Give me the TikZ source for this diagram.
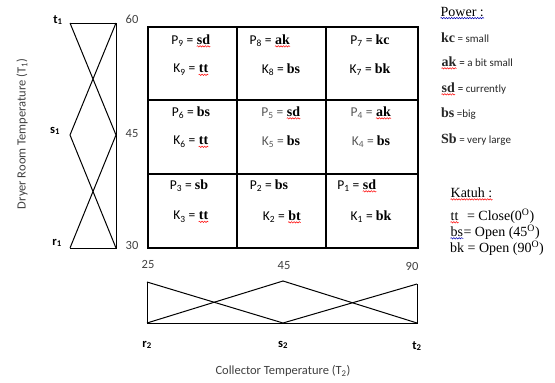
\documentclass[tikz,border=0pt]{standalone}
\usepackage{fontspec}
\setmainfont{Carlito}
\newfontfamily\bserif{Liberation Serif}
\usetikzlibrary{decorations.pathmorphing}
\tikzset{
  mfline/.style={line width=1pt, black},
  gridline/.style={line width=1.3pt, black},
  cell/.style={font=\fontsize{13.5}{15}\selectfont, inner sep=0pt},
  scalelbl/.style={font=\fontsize{12.5}{14}\selectfont, text=black!75, inner sep=0pt},
  termlbl/.style={font=\fontsize{12.5}{14}\selectfont\bfseries, inner sep=0pt},
  legend/.style={font=\fontsize{11}{13}\selectfont, anchor=west, inner sep=0pt, text=black!85},
  katuh/.style={font=\bserif\fontsize{14}{15}\selectfont, anchor=west, inner sep=0pt},
  squiggle/.style={line width=0.5pt, decorate, decoration={snake, amplitude=0.7pt, segment length=2.6pt}},
}
% bold serif value
\newcommand{\bv}[1]{{\bserif\bfseries\fontsize{14}{15}\selectfont #1}}
% wavy underline (spell-check mark)
\newcommand{\squig}[2][red]{\tikz[baseline=(w.base)]{\node[inner sep=0pt](w){#2};\draw[squiggle,#1] ([yshift=-1.6pt]w.south west) -- ([yshift=-1.6pt]w.south east);}}
\newcommand{\sub}[1]{\textsubscript{#1}}
\begin{document}
\begin{tikzpicture}[x=1pt,y=-1pt]
\useasboundingbox (0,0) rectangle (555,383);

% ---- dryer room membership functions ----
\coordinate (lt0) at (70,23);
\coordinate (lt1) at (116,23);
\coordinate (lm0) at (70,135);
\coordinate (lm1) at (116,135);
\coordinate (lb0) at (70,248);
\coordinate (lb1) at (116,248);
\draw[mfline] (lt0) -- (lt1) -- (lb1) -- (lb0);
\draw[mfline] (lt0) -- (lm1) -- (lb0);
\draw[mfline] (lt1) -- (lm0) -- (lb1);

\node[termlbl] (t1) at (58,20) {t\sub{1}};
\node[termlbl] (s1) at (55,131) {s\sub{1}};
\node[termlbl] (r1) at (57,243) {r\sub{1}};
\node[scalelbl] (v60) at (132,19) {60};
\node[scalelbl] (v45) at (132,134) {45};
\node[scalelbl] (v30) at (132,245) {30};
\node[scalelbl, rotate=90] (ylab) at (22,134) {Dryer Room Temperature (T\sub{1})};

% ---- rule table ----
\draw[gridline] (148,27) rectangle (418,248);
\draw[gridline] (237,27) -- (237,248);
\draw[gridline] (326,27) -- (326,248);
\draw[gridline] (148,100) -- (418,100);
\draw[gridline] (148,174) -- (418,174);

\node[cell] (p9) at (191,41) {P\sub{9} = \squig{\bv{sd}}};
\node[cell] (k9) at (191,70) {K\sub{9} = \squig{\bv{tt}}};
\node[cell] (p8) at (270,41) {P\sub{8} = \squig{\bv{ak}}};
\node[cell] (k8) at (281,70) {K\sub{8} = \bv{bs}};
\node[cell] (p7) at (370,41) {P\sub{7} = \bv{kc}};
\node[cell] (k7) at (370,70) {K\sub{7} = \bv{bk}};

\node[cell] (p6) at (191,113) {P\sub{6} = \bv{bs}};
\node[cell] (k6) at (191,142) {K\sub{6} = \squig{\bv{tt}}};
\node[cell, text=black!65] (p5) at (281,113) {P\sub{5} = \squig{\textcolor{black}{\bv{sd}}}};
\node[cell, text=black!65] (k5) at (281,142) {K\sub{5} = \textcolor{black}{\bv{bs}}};
\node[cell, text=black!65] (p4) at (371,113) {P\sub{4} = \squig{\textcolor{black}{\bv{ak}}}};
\node[cell, text=black!65] (k4) at (371,142) {K\sub{4} = \textcolor{black}{\bv{bs}}};

\node[cell] (p3) at (189,186) {P\sub{3} = \bv{sb}};
\node[cell] (k3) at (191,217) {K\sub{3} = \squig{\bv{tt}}};
\node[cell] (p2) at (269,186) {P\sub{2} = \bv{bs}};
\node[cell] (k2) at (282,217) {K\sub{2} = \squig{\bv{bt}}};
\node[cell] (p1) at (357,186) {P\sub{1} = \squig{\bv{sd}}};
\node[cell] (k1) at (371,217) {K\sub{1} = \bv{bk}};

% ---- collector membership functions ----
\coordinate (bl0) at (147,282);
\coordinate (bl1) at (147,323);
\coordinate (bm0) at (283,281);
\coordinate (bm1) at (283,323);
\coordinate (br0) at (417,284);
\coordinate (br1) at (417,323);
\draw[mfline] (bl0) -- (bl1) -- (br1) -- (br0);
\draw[mfline] (bl0) -- (bm1) -- (br0);
\draw[mfline] (bl1) -- (bm0) -- (br1);

\node[scalelbl] (h25) at (148,264) {25};
\node[scalelbl] (h45) at (284,266) {45};
\node[scalelbl] (h90) at (412,266) {90};
\node[termlbl] (r2) at (147,345) {r\sub{2}};
\node[termlbl] (s2) at (283,345) {s\sub{2}};
\node[termlbl] (t2) at (417,346) {t\sub{2}};
\node[scalelbl] (xlab) at (283,371) {Collector Temperature (T\sub{2})};

% ---- legend: power ----
\node[katuh] (pw) at (440,13) {\squig[blue!70!black]{Power :}};
\node[legend] (lkc) at (441,38) {\bv{kc} = small};
\node[legend] (lak) at (441,63) {\squig{\bv{ak}} \textcolor{black}{=} a bit small};
\node[legend] (lsd) at (441,89) {\squig{\bv{sd}} \textcolor{black}{=} currently};
\node[legend] (lbs) at (441,114) {\bv{bs} =big};
\node[legend] (lsb) at (441,140) {\bv{Sb} = very large};

% ---- legend: valve ----
\node[katuh] (kt) at (450,194) {\squig{Katuh :}};
\node[katuh] (ktt) at (450,216) {\squig{tt}\,\, = Close(0\textsuperscript{O})};
\node[katuh] (kbs) at (450,232) {\squig[blue!70!black]{bs}= Open (45\textsuperscript{O})};
\node[katuh] (kbk) at (450,248) {bk = Open (90\textsuperscript{O})};
\end{tikzpicture}
\end{document}
